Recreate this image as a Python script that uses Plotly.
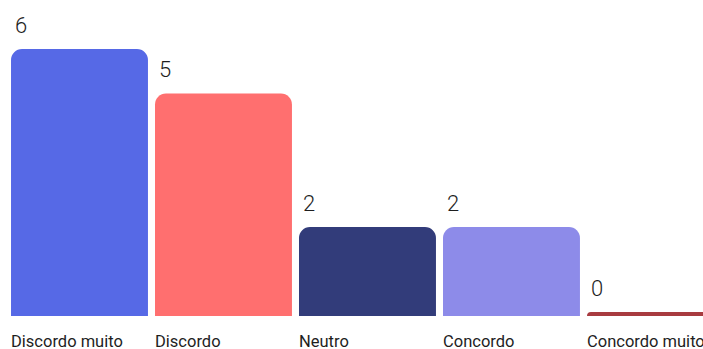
import plotly.graph_objects as go

# Survey responses per option
categories = ["Discordo muito", "Discordo", "Neutro", "Concordo", "Concordo muito"]
counts = [6, 5, 2, 2, 0]
colors = ["#5669E6", "#FF6F6F", "#323C7A", "#8D8BE9", "#A83B40"]

BAR_WIDTH = 0.951        # fraction of a category slot
ZERO_STUB = 0.09         # visible height for empty options
TEXT_COLOR = "#1E1E1E"
FONT = "Roboto"

xs = list(range(len(categories)))
heights = [c if c > 0 else ZERO_STUB for c in counts]

fig = go.Figure(
    go.Bar(
        x=xs,
        y=heights,
        width=BAR_WIDTH,
        marker=dict(color=colors, line=dict(width=0), cornerradius=11),
        hoverinfo="skip",
    )
)

annotations = []
for i, (cat, c, h) in enumerate(zip(categories, counts, heights)):
    left = i - BAR_WIDTH / 2
    # value above the bar
    annotations.append(dict(
        x=left, y=h, xref="x", yref="y", text=str(c), showarrow=False,
        xanchor="left", yanchor="bottom", xshift=2, yshift=9,
        font=dict(family=FONT, size=22, color=TEXT_COLOR, weight=300),
    ))
    # category name under the bar
    annotations.append(dict(
        x=left, y=0, xref="x", yref="y", text=cat, showarrow=False,
        xanchor="left", yanchor="top", xshift=-2, yshift=-14,
        font=dict(family=FONT, size=16.5, color=TEXT_COLOR),
    ))

fig.update_layout(
    width=703, height=349,
    margin=dict(l=0, r=0, t=0, b=33),
    paper_bgcolor="white", plot_bgcolor="white",
    showlegend=False,
    annotations=annotations,
    xaxis=dict(range=[-0.552, 4.33], showgrid=False, zeroline=False,
               showticklabels=False, showline=False, fixedrange=True),
    yaxis=dict(range=[0, 7.1], showgrid=False, zeroline=False,
               showticklabels=False, showline=False, fixedrange=True),
)

fig.write_html("out.html", config={"displayModeBar": False})
